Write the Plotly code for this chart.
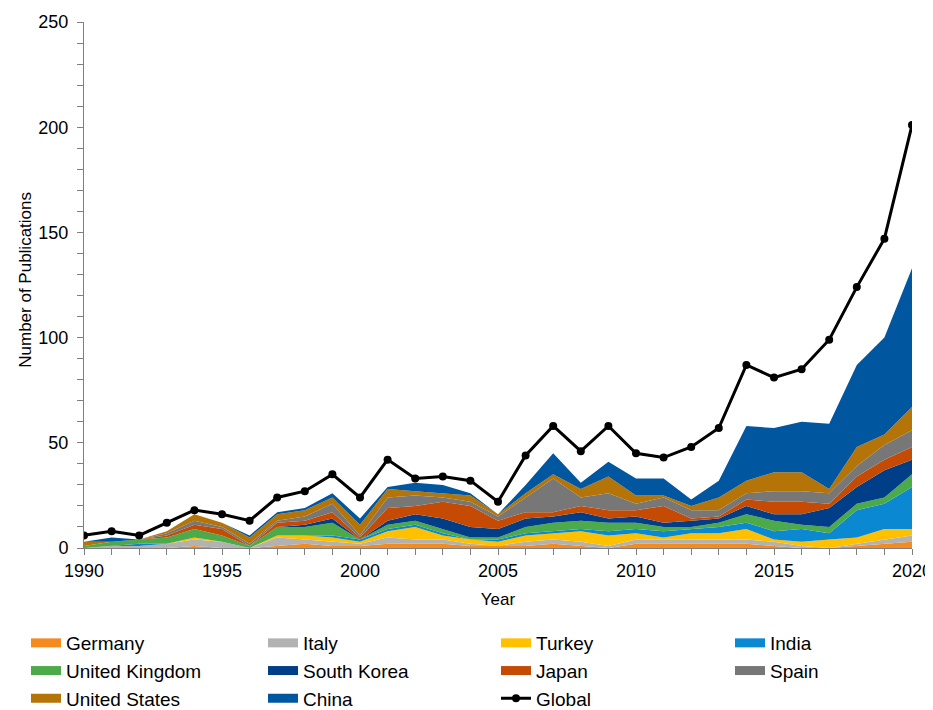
import plotly.graph_objects as go

years = list(range(1990, 2021))

germany = [0, 0, 0, 0, 1, 0, 0, 1, 2, 1, 1, 2, 2, 2, 1, 1, 1, 2, 1, 0, 2, 2, 2, 2, 2, 1, 0, 0, 1, 2, 3]
italy   = [0, 1, 1, 2, 3, 3, 0, 4, 2, 2, 1, 3, 2, 2, 1, 0, 2, 2, 2, 1, 2, 2, 2, 2, 2, 2, 1, 0, 1, 2, 3]
turkey  = [0, 0, 0, 0, 1, 0, 0, 1, 2, 2, 1, 3, 6, 2, 2, 2, 3, 3, 5, 5, 3, 1, 3, 3, 5, 1, 2, 4, 3, 5, 3]
india   = [0, 0, 1, 0, 0, 0, 0, 0, 0, 1, 1, 1, 1, 1, 0, 1, 1, 1, 1, 2, 2, 3, 2, 3, 3, 4, 6, 3, 13, 12, 20]
uk      = [1, 2, 2, 3, 4, 3, 1, 4, 4, 6, 0, 2, 2, 2, 1, 1, 3, 4, 4, 4, 3, 2, 1, 2, 4, 5, 2, 3, 3, 3, 6]
skorea  = [0, 0, 0, 0, 0, 0, 0, 0, 1, 2, 0, 2, 3, 5, 5, 4, 4, 3, 4, 2, 3, 2, 3, 2, 4, 3, 5, 9, 8, 13, 7]
japan   = [0, 0, 0, 1, 2, 3, 0, 2, 2, 3, 1, 6, 4, 8, 10, 4, 3, 2, 3, 4, 3, 8, 1, 1, 3, 6, 6, 2, 5, 5, 6]
spain   = [0, 0, 0, 1, 2, 1, 1, 1, 2, 4, 1, 5, 5, 2, 2, 2, 7, 16, 4, 8, 3, 4, 4, 3, 3, 5, 5, 5, 5, 7, 8]
usa     = [2, 0, 0, 1, 3, 2, 3, 3, 3, 3, 5, 4, 2, 2, 3, 1, 2, 2, 4, 8, 4, 1, 2, 6, 6, 9, 9, 2, 9, 5, 11]
china   = [0, 2, 0, 0, 0, 0, 1, 1, 1, 2, 3, 1, 4, 4, 1, 0, 4, 10, 3, 7, 8, 8, 3, 8, 26, 21, 24, 31, 39, 46, 66]
global_ = [6, 8, 6, 12, 18, 16, 13, 24, 27, 35, 24, 42, 33, 34, 32, 22, 44, 58, 46, 58, 45, 43, 48, 57, 87, 81, 85, 99, 124, 147, 201]

series = [
    ("Germany", germany, "#F58B1F"),
    ("Italy", italy, "#B2B2B2"),
    ("Turkey", turkey, "#FFC000"),
    ("India", india, "#0A88D2"),
    ("United Kingdom", uk, "#4CAA4A"),
    ("South Korea", skorea, "#003F88"),
    ("Japan", japan, "#C54B05"),
    ("Spain", spain, "#777777"),
    ("United States", usa, "#B57407"),
    ("China", china, "#0057A0"),
]

FONT = "Liberation Sans, Arial, sans-serif"
tick_font = dict(family=FONT, size=18, color="black")
title_font = dict(family=FONT, size=17, color="black")
legend_font = dict(family=FONT, size=19, color="black")

# page body has an 8px margin; figure is sized/positioned to compensate
W, H = 925, 702

legend_names = ["legend", "legend2", "legend3", "legend4"]

fig = go.Figure()
for name, vals, col in series:
    fig.add_trace(go.Scatter(
        x=years, y=vals, name=name, mode="lines",
        stackgroup="one", line=dict(width=0, color=col),
        fillcolor=col, legendgroup=name, showlegend=False,
    ))

# legend keys (rectangular swatches), laid out row-major in 4 columns
for i, (name, vals, col) in enumerate(series):
    fig.add_trace(go.Scatter(
        x=[None], y=[None], name=name, mode="lines",
        line=dict(width=9, color=col), legendgroup=name, showlegend=True,
        legend=legend_names[i % 4],
    ))

fig.add_trace(go.Scatter(
    x=years, y=global_, name="Global", mode="lines+markers",
    line=dict(color="black", width=3),
    marker=dict(color="black", size=8),
    legend=legend_names[10 % 4],
))

axis_col = "#7F7F7F"
col_x = [18, 255, 488, 722]
leg_top = 616


def leg(xpx):
    return dict(
        orientation="v", xref="container", yref="container",
        x=xpx / W, y=1 - leg_top / H, xanchor="left", yanchor="top",
        traceorder="normal", font=legend_font,
        itemwidth=30, tracegroupgap=0, bgcolor="rgba(0,0,0,0)",
    )


fig.update_layout(
    width=W, height=H,
    margin=dict(l=76, r=21, t=14, b=162, autoexpand=False),
    plot_bgcolor="white", paper_bgcolor="white",
    font=tick_font,
    showlegend=True,
    legend=leg(col_x[0]),
    legend2=leg(col_x[1]),
    legend3=leg(col_x[2]),
    legend4=leg(col_x[3]),
    xaxis=dict(
        range=[1990, 2020], tickmode="linear", tick0=1990, dtick=5,
        showline=True, linecolor=axis_col, linewidth=1,
        ticks="outside", ticklen=6, tickcolor=axis_col,
        minor=dict(dtick=1, ticks="outside", ticklen=6, tickcolor=axis_col),
        showgrid=False, zeroline=False, automargin=False,
        title=dict(text="Year", font=title_font, standoff=13),
        tickfont=tick_font,
    ),
    yaxis=dict(
        range=[0, 250], tickmode="linear", tick0=0, dtick=50,
        showline=True, linecolor=axis_col, linewidth=1,
        ticks="outside", ticklen=6, tickcolor=axis_col,
        minor=dict(dtick=10, ticks="outside", ticklen=6, tickcolor=axis_col),
        showgrid=False, zeroline=False, automargin=False,
        ticksuffix="\u00a0",
        tickfont=tick_font,
    ),
    annotations=[dict(
        text="Number of Publications", textangle=-90,
        xref="paper", yref="paper", x=(26 - 84) / 828, y=0.51,
        xanchor="center", yanchor="middle", showarrow=False,
        font=title_font,
    )],
)

fig.write_html("out.html")
